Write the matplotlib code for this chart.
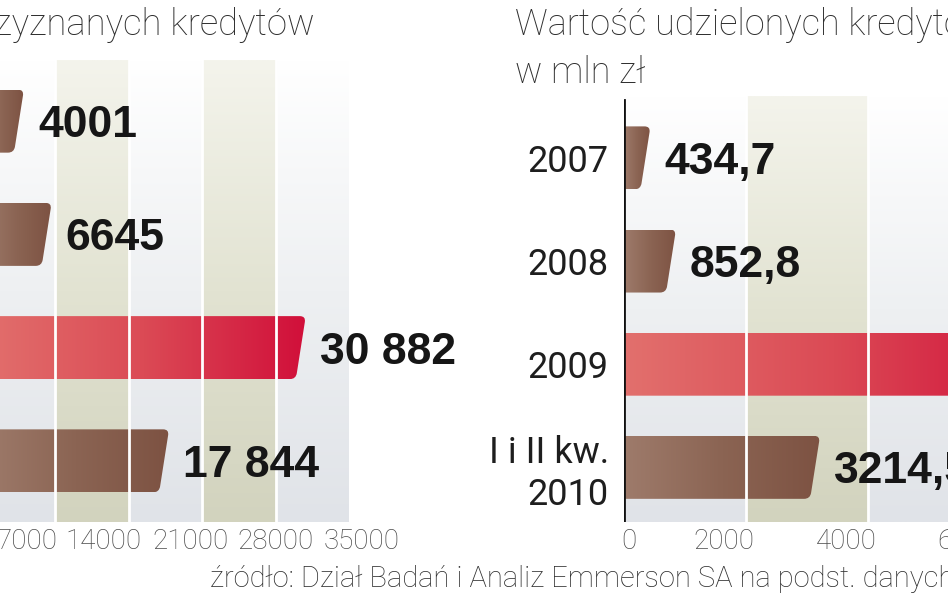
import numpy as np
import matplotlib
matplotlib.use("Agg")
import matplotlib.pyplot as plt
from matplotlib import font_manager
from matplotlib.font_manager import FontProperties
from matplotlib.path import Path
from matplotlib.patches import PathPatch
from matplotlib.colors import LinearSegmentedColormap
from matplotlib.transforms import ScaledTranslation

# data
years = ["2007", "2008", "2009", "I i II kw.\n2010"]
count_vals = [4001, 6645, 30882, 17844]
count_labels = ["4001", "6645", "30 882", "17 844"]
value_vals = [434.7, 852.8, 6900, 3214.5]   # 2009 runs off the crop, estimated
value_labels = ["434,7", "852,8", "", "3214,5"]
count_ticks = [7000, 14000, 21000, 28000, 35000]
value_ticks = [0, 2000, 4000, 6000]
highlight = [False, False, True, False]

W, H = 948, 593


def pick(fams, **kw):
    for f in fams:
        fp = FontProperties(family=f, **kw)
        try:
            font_manager.findfont(fp, fallback_to_default=False)
            return fp
        except ValueError:
            continue
    return FontProperties(family="DejaVu Sans", **kw)


num_font = pick(["Liberation Sans Narrow", "Liberation Sans", "Roboto"], weight="bold")
light_font = pick(["Roboto", "Lato", "Open Sans"], weight="light")
cat_font = pick(["Roboto", "Noto Sans"])

bg_cmap = LinearSegmentedColormap.from_list("bg", ["#ffffff", "#eef0f2", "#e0e3e8"])
band_cmap = LinearSegmentedColormap.from_list("band", ["#f4f4ec", "#e2e3d2", "#d2d3be"])
brown_cmap = LinearSegmentedColormap.from_list("brown", ["#9e7b6b", "#8b6453", "#7d5242"])
red_cmap = LinearSegmentedColormap.from_list("red", ["#e2706d", "#db4a55", "#d10f3a"])

fig = plt.figure(figsize=(W / 100, H / 100), dpi=100)


def px_axes(x0, y0, x1, y1):
    return fig.add_axes([x0 / W, 1 - y1 / H, (x1 - x0) / W, (y1 - y0) / H])


def panel(ax, vals, labels, xmax, ylim, bands, grid, ticks, tick_dx, ax_px_w, ax_px_h):
    ax.set_xlim(0, xmax)
    ax.set_ylim(*ylim)
    kx = xmax / ax_px_w                       # data units per pixel
    ky = abs(ylim[0] - ylim[1]) / ax_px_h
    grad = np.linspace(0, 1, 256).reshape(-1, 1)
    ax.imshow(grad, cmap=bg_cmap, extent=[0, xmax, ylim[0], ylim[1]],
              aspect="auto", zorder=0)
    for b0, b1 in bands:
        ax.imshow(grad, cmap=band_cmap, extent=[b0, b1, ylim[0], ylim[1]],
                  aspect="auto", zorder=0.5)

    hgrad = np.linspace(0, 1, 256).reshape(1, -1)
    h = 63 * ky
    bars = ax.barh(range(len(vals)), vals, height=h, color="none", zorder=1)
    for i, rect in enumerate(bars):
        x1 = rect.get_x() + rect.get_width()
        yt, yb = rect.get_y(), rect.get_y() + rect.get_height()
        s, r = 10 * kx, 6
        verts = [(0, yt), (x1 - r * kx, yt), (x1, yt), (x1 - 1 * kx, yt + r * ky),
                 (x1 - s + 1 * kx, yb - r * ky), (x1 - s, yb), (x1 - s - r * kx, yb),
                 (0, yb), (0, yt)]
        codes = [Path.MOVETO, Path.LINETO, Path.CURVE3, Path.CURVE3, Path.LINETO,
                 Path.CURVE3, Path.CURVE3, Path.LINETO, Path.CLOSEPOLY]
        patch = PathPatch(Path(verts, codes), facecolor="none", edgecolor="none")
        ax.add_patch(patch)
        cmap = red_cmap if highlight[i] else brown_cmap
        im = ax.imshow(hgrad, cmap=cmap, extent=[0, x1, yb, yt], aspect="auto", zorder=2)
        im.set_clip_path(patch)
        ax.text(x1 + 14 * kx, rect.get_y() + rect.get_height() / 2, labels[i],
                fontproperties=num_font, fontsize=32, color="#161616",
                ha="left", va="center_baseline", zorder=5)

    for g in grid:
        ax.axvline(g, color="white", lw=2, zorder=3)

    ax.set_xlim(0, xmax)
    ax.set_ylim(*ylim)
    ax.set_xticks(ticks)
    ax.tick_params(length=0, labelbottom=False)
    # tick labels are typeset as an evenly spaced row in the original
    for t, dx in zip(ticks, tick_dx):
        off = ScaledTranslation(dx / 100, -6 / 100, fig.dpi_scale_trans)
        ax.text(t, 0, str(t), transform=ax.get_xaxis_transform() + off,
                ha="center", va="top", fontproperties=light_font, fontsize=20,
                color="#4a4a4a")
    ax.set_yticks(range(len(years)))
    ax.set_yticklabels(years, multialignment="right")
    for lab in ax.get_yticklabels():
        lab.set_fontproperties(cat_font)
        lab.set_fontsize(26)
        lab.set_color("#1e1e1e")
    ax.tick_params(length=0, axis="y", pad=11)
    for sp in ax.spines.values():
        sp.set_visible(False)


# left panel: number of loans
ax1 = px_axes(-18, 60, 349, 522)
panel(ax1, count_vals, count_labels, 35000, (3.54, -0.54),
      [(7000, 14000), (21000, 28000)], [7000, 14000, 21000, 28000],
      count_ticks, [-28, -25, -12, 0, 13], 367, 462)
ax1.tick_params(labelleft=False)

# right panel: value of loans, mln zl
ax2 = px_axes(624, 96, 1051, 522)
panel(ax2, value_vals, value_labels, 7000, (3.53, -0.6),
      [(2000, 4000)], [2000, 4000, 6000], value_ticks, [5, -22, -22, -22], 427, 426)
ax2.axvline(0, ymin=0, ymax=(522 - 100) / 426, color="#111111", lw=2, zorder=4)

fig.text(315 / W, 1 - 35 / H, "Liczba przyznanych kredytów", ha="right",
         va="baseline", fontproperties=light_font, fontsize=26.3, color="#2e2e2e")
fig.text(515 / W, 1 - 35 / H, "Wartość udzielonych kredytów", ha="left",
         va="baseline", fontproperties=light_font, fontsize=26, color="#2e2e2e")
fig.text(515 / W, 1 - 83 / H, "w mln zł", ha="left",
         va="baseline", fontproperties=light_font, fontsize=26, color="#2e2e2e")
fig.text(210 / W, 1 - 587 / H,
         "źródło: Dział Badań i Analiz Emmerson SA na podst. danych BIK",
         ha="left", va="baseline", fontproperties=light_font, fontsize=21,
         color="#2e2e2e")

fig.savefig("out.png", dpi=100)
